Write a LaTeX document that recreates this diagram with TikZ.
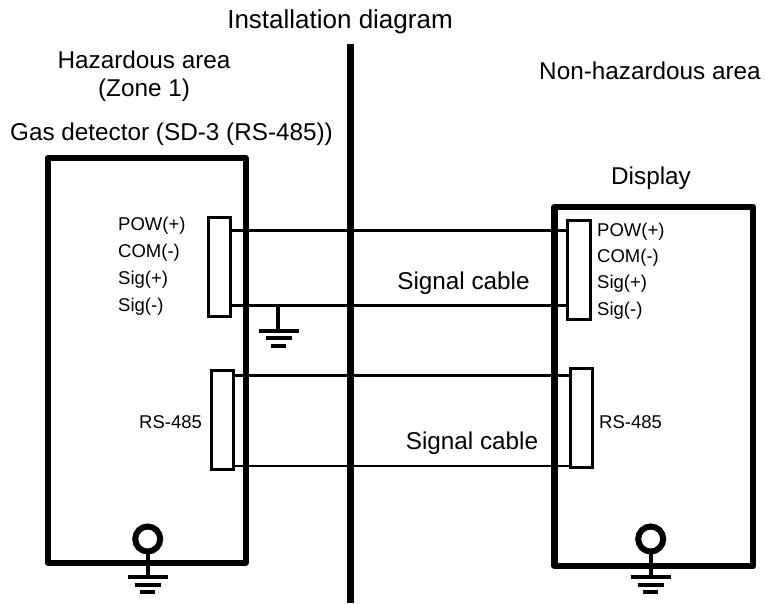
\documentclass[tikz,border=0pt]{standalone}
\usepackage{fontspec}
\setmainfont{Liberation Sans}
\def\earth(#1,#2){
	\draw[line width=3.8pt] (#1, #2) -- (#1, 577);
	\draw[line width=4pt] (#1-20, 577) -- (#1+20, 577);
	\draw[line width=4pt] (#1-13, 584.5) -- (#1+13, 584.5);
	\draw[line width=4pt] (#1-7.5, 592) -- (#1+7.5, 592);
}
\tikzset{
	title/.style={font=\fontsize{24.3}{28}\selectfont, align=center},
	pin/.style={font=\fontsize{18.5}{22}\selectfont, inner sep=0pt},
	plug/.style={draw, line width=3pt, fill=white, inner sep=0pt},
	wire/.style={line width=2.6pt}
}

\begin{document}
\begin{tikzpicture}[x=1pt, y=-1pt]
	\useasboundingbox (0, 0) rectangle (766, 603);

	%%%%% BOXES %%%%%
	\draw[line width=6pt, line join=round] (47.5, 158) rectangle (245.5, 562.5);
	\draw[line width=6.5pt, line join=round] (554.5, 207) rectangle (753, 566);

	%%%%% WIRES %%%%%
	\coordinate (wirePowL) at (230, 230.5);
	\coordinate (wirePowR) at (568, 230.5);
	\coordinate (wireSigL) at (230, 305.5);
	\coordinate (wireSigR) at (568, 305.5);
	\coordinate (wireTopL) at (233, 375.5);
	\coordinate (wireTopR) at (570, 375.5);
	\coordinate (wireLowL) at (233, 466);
	\coordinate (wireLowR) at (570, 466);
	\draw[wire] (wirePowL) -- (wirePowR);
	\draw[wire] (wireSigL) -- (wireSigR);
	\draw[wire] (wireTopL) -- (wireTopR);
	\draw[wire] (wireLowL) -- (wireLowR);

	%%%%% PLUGS %%%%%
	\node[plug, minimum width=22pt, minimum height=99pt] (plugSigL) at (219.5, 267) {};
	\node[plug, minimum width=23pt, minimum height=99pt] (plugSigR) at (579, 270) {};
	\node[plug, minimum width=22pt, minimum height=99pt] (plugRsL) at (222.5, 420) {};
	\node[plug, minimum width=22pt, minimum height=99pt] (plugRsR) at (581.5, 418) {};

	%%%%% DIVIDER %%%%%
	\draw[line width=7pt] (350.5, 44) -- (350.5, 603);

	%%%%% EARTHS %%%%%
	\draw[line width=6pt] (147.7, 539) circle (12.5);
	\earth(147.7,551)
	\draw[line width=6pt] (650.7, 539) circle (12.5);
	\earth(650.7,551)
	\draw[line width=3.8pt] (278, 305.5) -- (278, 331);
	\draw[line width=4pt] (258.5, 331) -- (298.5, 331);
	\draw[line width=4pt] (265.5, 338) -- (291.5, 338);
	\draw[line width=4pt] (271, 346) -- (286, 346);

	%%%%% TEXT %%%%%
	\node[title, font=\fontsize{26}{30}\selectfont] (titleMain) at (340, 22) {Installation diagram};
	\node[title] (titleHaz) at (144, 76) {Hazardous area\\(Zone 1)};
	\node[title] (titleSafe) at (650, 71) {Non-hazardous area};
	\node[title] (titleGas) at (171.5, 134) {Gas detector (SD-3 (RS-485))};
	\node[title] (titleDisp) at (651, 178) {Display};
	\node[title] (cableSig) at (463.5, 283.5) {Signal cable};
	\node[title] (cableRs) at (472, 443) {Signal cable};

	\node[pin, anchor=west] (pinPowL) at (118, 226) {POW(+)};
	\node[pin, anchor=west] (pinComL) at (118, 253) {COM(-)};
	\node[pin, anchor=west] (pinSipL) at (118, 280) {Sig(+)};
	\node[pin, anchor=west] (pinSimL) at (118, 307) {Sig(-)};
	\node[pin, anchor=west] (pinPowR) at (597, 231.5) {POW(+)};
	\node[pin, anchor=west] (pinComR) at (597, 258) {COM(-)};
	\node[pin, anchor=west] (pinSipR) at (597, 284) {Sig(+)};
	\node[pin, anchor=west] (pinSimR) at (597, 311) {Sig(-)};
	\node[pin, anchor=west] (pinRsL) at (139, 422) {RS-485};
	\node[pin, anchor=west] (pinRsR) at (599, 422) {RS-485};
\end{tikzpicture}
\end{document}
